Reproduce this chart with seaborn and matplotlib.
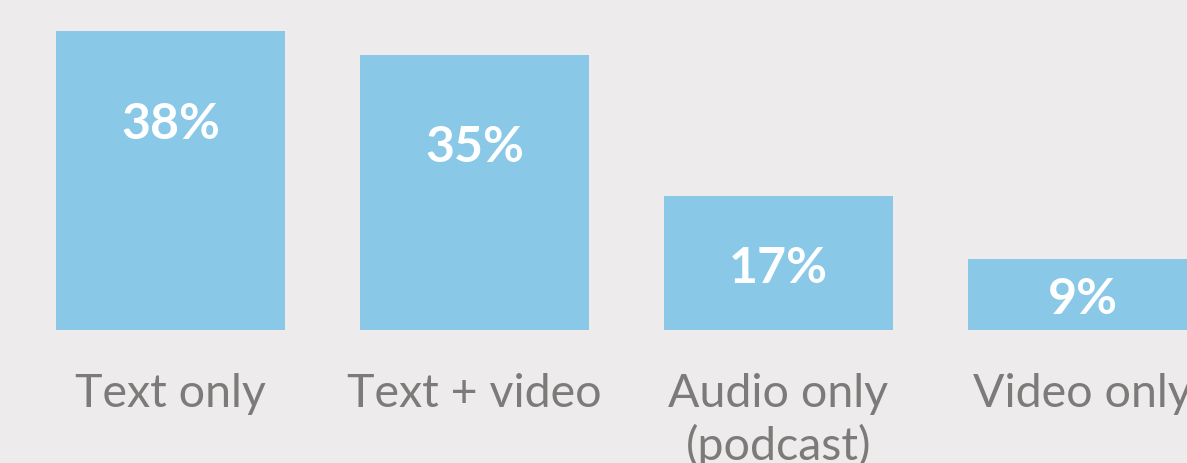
import matplotlib
matplotlib.use("Agg")
import matplotlib.pyplot as plt
import seaborn as sns
import pandas as pd

categories = ["Text only", "Text + video", "Audio only\n(podcast)", "Video only"]
values = [38, 35, 17, 9]

BG = "#EEEBEC"
BAR = "#8AC8E8"
GRAY = "#7D7A7A"

sns.set_theme(style="white")
plt.rcParams["font.family"] = ["Lato", "DejaVu Sans"]

df = pd.DataFrame({"category": categories, "value": values})

fig = plt.figure(figsize=(11.87, 4.64), dpi=100)
fig.patch.set_facecolor(BG)
ax = fig.add_axes([0, (464 - 331) / 464, 1, 331 / 464])
ax.set_facecolor(BG)

sns.barplot(data=df, x="category", y="value", color=BAR, saturation=1,
            width=0.753, linewidth=0, edgecolor="none", ax=ax)

ax.set_xlim(-170.5 / 304, (1187 - 170.5) / 304)
ax.set_ylim(0, 331 / 7.87)

for i, v in enumerate(values):
    y = v - min(v / 2, 11.2) - 0.5
    ax.text(i, y, f"{v}%", ha="center", va="center", color="white",
            fontsize=36, fontweight="bold")

ax.set_xlabel("")
ax.set_ylabel("")
ax.set_yticks([])
ax.tick_params(axis="x", length=0, pad=30, labelsize=33.5, labelcolor=GRAY)
for lab in ax.get_xticklabels():
    lab.set_va("top")
    lab.set_linespacing(1.25)
for s in ax.spines.values():
    s.set_visible(False)

fig.savefig("out.png", dpi=100, facecolor=BG)
